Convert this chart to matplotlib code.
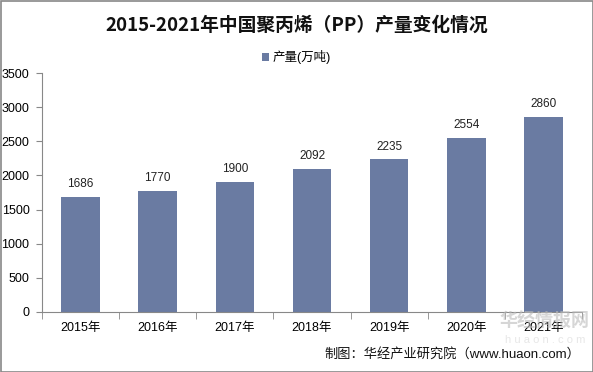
import matplotlib.pyplot as plt
from matplotlib.patches import Rectangle

plt.rcParams['font.family'] = ['Liberation Sans', 'Noto Sans CJK SC', 'DejaVu Sans']

years = ["2015年", "2016年", "2017年", "2018年", "2019年", "2020年", "2021年"]
output = [1686, 1770, 1900, 2092, 2235, 2554, 2860]
yticks = [0, 500, 1000, 1500, 2000, 2500, 3000, 3500]

bar_color = "#6A7BA2"

fig = plt.figure(figsize=(5.93, 3.72), dpi=100)
ax = fig.add_axes([42 / 593, 1 - 312 / 372, (582 - 42) / 593, (312 - 73) / 372])

x = list(range(len(years)))
bars = ax.bar(x, output, width=0.5, color=bar_color, label="产量(万吨)", zorder=2)
for xi, v in zip(x, output):
    ax.text(xi, v + 100, str(v), ha="center", va="bottom", fontsize=8.5, color="#222222")

ax.set_xlim(-0.5, len(years) - 0.5)
ax.set_ylim(0, 3500)
ax.set_yticks(yticks)
ax.set_yticklabels([str(t) for t in yticks], fontsize=9)
ax.set_xticks(x)
ax.set_xticklabels(years, fontsize=9)
ax.set_xticks([i + 0.5 for i in range(-1, len(years))], minor=True)
ax.tick_params(axis="x", which="major", length=0, pad=7)
ax.tick_params(axis="x", which="minor", length=5, color="#888888")
ax.tick_params(axis="y", length=4, color="#888888", pad=5)
for s in ["top", "right"]:
    ax.spines[s].set_visible(False)
for s in ["left", "bottom"]:
    ax.spines[s].set_color("#888888")
    ax.spines[s].set_linewidth(0.8)

fig.text(0.5, 1 - 25 / 372, "2015-2021年中国聚丙烯（PP）产量变化情况", ha="center", va="center",
         fontsize=13.5, fontweight="bold", color="#111111",
         family=['Noto Sans CJK SC', 'DejaVu Sans'])
ax.legend(loc="center", bbox_to_anchor=(0.5, 1 - 57 / 372), bbox_transform=fig.transFigure,
          frameon=False, fontsize=9, handlelength=0.6, handleheight=0.6, handletextpad=0.3)

# watermark
fig.text(545 / 593, 1 - 322 / 372, "华经情报网", ha="center", va="center", fontsize=13,
         fontweight="bold", color="#bbbbbb", alpha=0.6)
fig.text(545 / 593, 1 - 340 / 372, "h u a o n . c o m", ha="center", va="center", fontsize=8,
         color="#dddddd", alpha=0.7)

fig.text(580 / 593, 1 - 354 / 372, "制图：华经产业研究院（www.huaon.com）", ha="right", va="center",
         fontsize=9.5, color="#111111")

fig.patches.append(Rectangle((0.5 / 593, 0.5 / 372), 1 - 1 / 593, 1 - 1 / 372, transform=fig.transFigure,
                             fill=False, edgecolor="#888888", linewidth=1.2))

fig.savefig("out.png", dpi=100)
